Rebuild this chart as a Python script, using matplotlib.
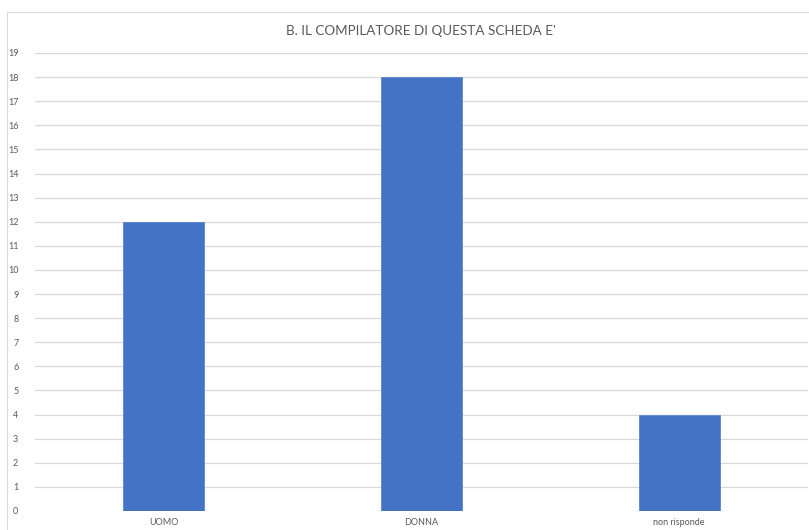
import matplotlib.pyplot as plt
from matplotlib.patches import Rectangle

# Valori
categorie = ["UOMO", "DONNA", "non risponde"]
valori = [12, 18, 4]
titolo = "B. IL COMPILATORE DI QUESTA SCHEDA E'"

plt.rcParams['font.family'] = ['Lato', 'DejaVu Sans']

W, H = 809, 530
fig = plt.figure(figsize=(W / 100, H / 100), dpi=100)

# cornice dell'area grafico
fig.patches.append(Rectangle((7 / W, -0.01), 1.0, 1 - 12 / H + 0.01,
                             transform=fig.transFigure, fill=False,
                             edgecolor="#d9d9d9", linewidth=0.8))

ax = fig.add_axes([35 / W, 1 - 511 / H, 773 / W, (511 - 53) / H])
x = range(len(categorie))
ax.bar(x, valori, width=0.315, color="#4472c4", edgecolor="#5b85d0",
       linewidth=0.6, zorder=3)

ax.set_xlim(-0.5, 2.5)
ax.set_ylim(0, 19)
ax.set_yticks(range(0, 20))
ax.set_xticks(list(x))
ax.set_xticklabels(categorie)
ax.tick_params(axis="both", length=0, labelsize=6.5, colors="#595959")
ax.tick_params(axis="y", pad=12)
ax.tick_params(axis="x", pad=5)
ax.grid(axis="y", color="#d9d9d9", linewidth=0.9, zorder=0)
for s in ax.spines.values():
    s.set_visible(False)

fig.text(421 / W, 1 - 31 / H, titolo, ha="center", va="center",
         fontsize=9.7, color="#595959")

fig.savefig("out.png", dpi=100)
